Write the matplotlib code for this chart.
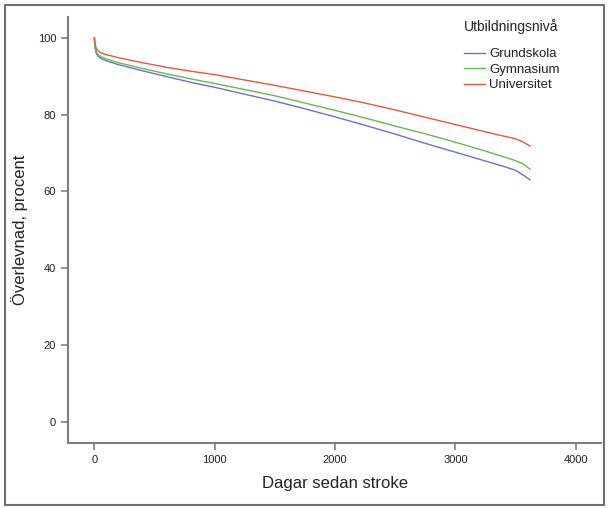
import matplotlib.pyplot as plt

plt.rcParams['font.family'] = ['Liberation Sans', 'DejaVu Sans']

# dagar sedan stroke
days = [0, 5, 15, 30, 60, 100, 200, 400, 600, 800, 1000, 1250, 1500, 1750,
        2000, 2250, 2500, 2750, 3000, 3250, 3400, 3500, 3560, 3620]

# överlevnad (procent) per utbildningsnivå
grundskola = [100, 97.5, 96.0, 95.2, 94.5, 94.0, 93.0, 91.4, 89.9, 88.4, 87.1,
              85.3, 83.5, 81.5, 79.4, 77.2, 74.9, 72.5, 70.2, 67.9, 66.5, 65.5,
              64.3, 63.0]
gymnasium = [100, 97.8, 96.4, 95.6, 95.0, 94.5, 93.5, 92.0, 90.6, 89.3, 88.1,
             86.5, 84.9, 83.0, 81.1, 79.1, 77.0, 75.0, 72.8, 70.5, 69.0, 68.0,
             67.2, 65.8]
universitet = [100, 98.5, 97.3, 96.6, 96.0, 95.6, 94.8, 93.5, 92.3, 91.3, 90.4,
               89.0, 87.6, 86.1, 84.6, 83.0, 81.2, 79.3, 77.4, 75.5, 74.4, 73.7,
               72.9, 71.8]

labels = ['Grundskola', 'Gymnasium', 'Universitet']
colors = ['#6f6fd2', '#62bd50', '#e9573c']

fig = plt.figure(figsize=(6.09, 5.08), dpi=100)
ax = fig.add_axes([0.1117, 0.128, 0.8753, 0.8385])

for vals, lab, col in zip([grundskola, gymnasium, universitet], labels, colors):
    ax.plot(days, vals, color=col, lw=1.0, label=lab)

ax.set_xlim(-219, 4210)
ax.set_ylim(-5.5, 105.4)
ax.set_xticks([0, 1000, 2000, 3000, 4000])
ax.set_yticks([0, 20, 40, 60, 80, 100])

for side in ['top', 'right']:
    ax.spines[side].set_visible(False)
for side in ['left', 'bottom']:
    ax.spines[side].set_color('#808080')
    ax.spines[side].set_linewidth(1.5)
ax.tick_params(colors='#808080', width=1.2, length=5, labelcolor='#222222',
               labelsize=8)

ax.set_xlabel('Dagar sedan stroke', fontsize=12, color='#222222', labelpad=8)
ax.set_ylabel('Överlevnad, procent', fontsize=12, color='#222222', labelpad=7)

# legend: rubrik som egen text, poster under
fig.text(464 / 609, 1 - 27 / 508, 'Utbildningsnivå', fontsize=10,
         color='#222222', ha='left', va='center')
leg = ax.legend(loc='upper left', bbox_to_anchor=(464 / 609, 1 - 48 / 508),
                bbox_transform=fig.transFigure, frameon=False,
                fontsize=9.5, handlelength=1.6, handletextpad=0.3,
                labelspacing=0.25, borderpad=0, borderaxespad=0)
for t in leg.get_texts():
    t.set_color('#222222')

# grå ram runt hela figuren
fig.patches.append(plt.Rectangle((0.008, 0.006), 0.984, 0.984,
                                 transform=fig.transFigure, fill=False,
                                 edgecolor='#707070', lw=1.5))

fig.savefig('out.png', dpi=100)
